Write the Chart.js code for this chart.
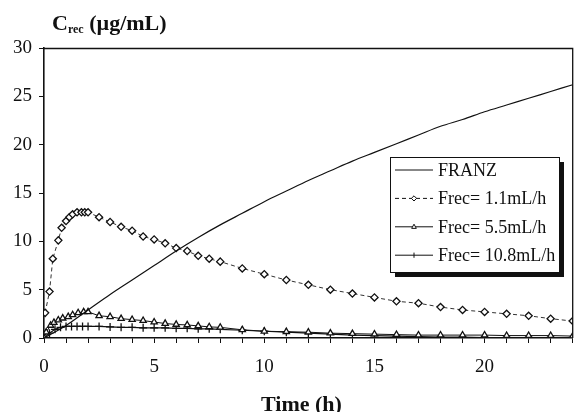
<!DOCTYPE html>
<html>
<head>
<meta charset="utf-8">
<title>Crec vs time</title>
<script src="https://cdn.jsdelivr.net/npm/chart.js@4.4.1/dist/chart.umd.min.js"></script>
<style>
  html, body { margin: 0; padding: 0; background: #fff; overflow: hidden; }
  /* the layout keeps a few px spare on the right; the wrapper is widened so the plot reaches the edge */
  #wrap { position: relative; width: 578px; height: 412px; }
</style>
</head>
<body>
<div id="wrap"><canvas id="chart"></canvas></div>
<script>
'use strict';

// ── Series data (time in h, concentration in µg/mL) ──────────
const tFranz = [0, 1, 2, 3, 4, 5, 6, 7, 8, 9, 10, 11, 12, 13, 14, 15, 16, 17, 18, 19, 20, 21, 22, 23, 24];
const cFranz = [0, 1.3, 2.9, 4.5, 6.0, 7.5, 9.0, 10.4, 11.7, 12.9, 14.1, 15.2, 16.3, 17.3, 18.3, 19.2, 20.1, 21.0, 21.9, 22.6, 23.4, 24.1, 24.8, 25.5, 26.2];

const t11 = [0.05, 0.25, 0.4, 0.65, 0.8, 1.0, 1.15, 1.3, 1.5, 1.7, 1.85, 2.0, 2.5, 3, 3.5, 4, 4.5, 5, 5.5, 6, 6.5, 7, 7.5, 8,
             9, 10, 11, 12, 13, 14, 15, 16, 17, 18, 19, 20, 21, 22, 23, 24];
const c11 = [2.6, 4.8, 8.2, 10.1, 11.4, 12.1, 12.5, 12.8, 13.0, 13.0, 13.0, 13.0, 12.5, 12.0, 11.5, 11.1, 10.5, 10.2, 9.8, 9.3, 9.0, 8.5, 8.2, 7.9,
             7.2, 6.6, 6.0, 5.5, 5.0, 4.6, 4.2, 3.8, 3.6, 3.2, 2.9, 2.7, 2.5, 2.3, 2.0, 1.75];

const t55 = [0, 0.1, 0.3, 0.45, 0.65, 0.85, 1.1, 1.3, 1.55, 1.8, 2, 2.5, 3, 3.5, 4, 4.5, 5, 5.5, 6, 6.5, 7, 7.5, 8,
             9, 10, 11, 12, 13, 14, 15, 16, 17, 18, 19, 20, 21, 22, 23, 24];
const c55 = [0, 0.6, 1.3, 1.6, 1.85, 2.05, 2.2, 2.4, 2.6, 2.7, 2.7, 2.3, 2.2, 2.0, 1.9, 1.8, 1.65, 1.5, 1.4, 1.35, 1.25, 1.15, 1.1,
             0.85, 0.7, 0.65, 0.6, 0.5, 0.45, 0.4, 0.35, 0.3, 0.3, 0.3, 0.3, 0.25, 0.25, 0.25, 0.2];

const t108 = [0, 0.25, 0.5, 0.75, 1, 1.25, 1.5, 1.75, 2, 2.5, 3, 3.5, 4, 4.5, 5, 5.5, 6, 6.5, 7, 7.5, 8,
              9, 10, 11, 12, 13, 14, 15, 16, 17, 18, 19, 20, 21, 22, 23, 24];
const c108 = [0, 0.5, 0.9, 1.1, 1.2, 1.2, 1.2, 1.2, 1.2, 1.2, 1.15, 1.1, 1.1, 1.05, 1.05, 1.05, 1.0, 1.0, 0.95, 0.95, 0.9,
              0.8, 0.7, 0.6, 0.5, 0.4, 0.3, 0.25, 0.2, 0.15, 0.1, 0.1, 0.05, 0.05, 0.05, 0.05, 0.05];

const seriesLabels = ['FRANZ', 'Frec= 1.1mL/h', 'Frec= 5.5mL/h', 'Frec= 10.8mL/h'];

// axis ranges
const xMin = 0, xMax = 24, xStep = 1, xLabelEvery = 5;
const yMin = 0, yMax = 30, yStep = 5;

const SERIF = '"Liberation Serif", "DejaVu Serif", serif';
const INK = '#111';

const pts = (xs, ys) => xs.map((x, i) => ({ x, y: ys[i] }));

// ── Plugins: frame, titles, legend box ───────────────────────
const framePlugin = {
    id: 'frame',
    afterDatasetsDraw(chart) {
        const { ctx, chartArea: a } = chart;
        ctx.save();
        ctx.strokeStyle = INK;
        ctx.lineWidth = 1.3;
        ctx.beginPath();
        ctx.moveTo(a.left, a.top + 0.5);
        ctx.lineTo(a.right, a.top + 0.5);
        ctx.lineTo(a.right, a.bottom);
        ctx.stroke();
        ctx.restore();
    }
};

const titlePlugin = {
    id: 'titles',
    afterDraw(chart) {
        const { ctx, chartArea: a } = chart;
        ctx.save();
        ctx.fillStyle = INK;
        ctx.textBaseline = 'alphabetic';
        // y title: C with "rec" subscript
        let x = 52;
        const base = 30;
        ctx.font = 'bold 22px ' + SERIF;
        ctx.fillText('C', x, base);
        x += ctx.measureText('C').width;
        ctx.font = 'bold 12px ' + SERIF;
        ctx.fillText('rec', x, base + 3);
        x += ctx.measureText('rec').width;
        ctx.font = 'bold 22px ' + SERIF;
        ctx.fillText(' (µg/mL)', x, base);
        // x title
        ctx.textAlign = 'center';
        ctx.fillText('Time (h)', a.left + (a.right - a.left) * 0.487, 411);
        ctx.restore();
    }
};

function drawMarker(ctx, style, x, y, r) {
    ctx.beginPath();
    if (style === 'rectRot') {
        ctx.moveTo(x, y - r); ctx.lineTo(x + r, y); ctx.lineTo(x, y + r); ctx.lineTo(x - r, y); ctx.closePath();
        ctx.fill(); ctx.stroke();
    } else if (style === 'triangle') {
        ctx.moveTo(x, y - r); ctx.lineTo(x + r * 0.9, y + r * 0.6); ctx.lineTo(x - r * 0.9, y + r * 0.6); ctx.closePath();
        ctx.fill(); ctx.stroke();
    } else if (style === 'cross') {
        ctx.moveTo(x, y - r); ctx.lineTo(x, y + r);
        ctx.stroke();
    }
}

const legendPlugin = {
    id: 'boxLegend',
    afterDraw(chart) {
        const { ctx } = chart;
        const box = { left: 390, top: 157, right: 559, bottom: 272, shadow: 5 };
        ctx.save();
        // drop shadow
        ctx.fillStyle = '#111';
        ctx.fillRect(box.left + box.shadow, box.top + box.shadow, box.right - box.left, box.bottom - box.top);
        ctx.fillStyle = '#fff';
        ctx.fillRect(box.left, box.top, box.right - box.left, box.bottom - box.top);
        ctx.strokeStyle = INK;
        ctx.lineWidth = 1;
        ctx.strokeRect(box.left + 0.5, box.top + 0.5, box.right - box.left, box.bottom - box.top);

        chart.data.datasets.forEach((ds, i) => {
            const y = 170 + i * 28.4;
            ctx.strokeStyle = INK;
            ctx.lineWidth = 1;
            ctx.setLineDash(ds.borderDash || []);
            ctx.beginPath();
            ctx.moveTo(395, y);
            ctx.lineTo(433, y);
            ctx.stroke();
            ctx.setLineDash([]);
            if (ds.pointStyle && ds.pointRadius > 0) {
                ctx.fillStyle = '#fff';
                ctx.lineWidth = 1;
                drawMarker(ctx, ds.pointStyle, 414, y, 2.6);
            }
            ctx.fillStyle = INK;
            ctx.font = '18px ' + SERIF;
            ctx.textBaseline = 'middle';
            ctx.fillText(ds.label, 438, y + 1);
        });
        ctx.restore();
    }
};

// ── Chart ────────────────────────────────────────────────────
const ctx = document.getElementById('chart').getContext('2d');
new Chart(ctx, {
    type: 'line',
    data: {
        datasets: [
            {
                label: seriesLabels[0], data: pts(tFranz, cFranz),
                borderColor: INK, borderWidth: 1.2, pointRadius: 0, tension: 0.4, cubicInterpolationMode: 'monotone'
            },
            {
                label: seriesLabels[1], data: pts(t11, c11),
                borderColor: '#333', borderWidth: 1, borderDash: [4, 3],
                pointStyle: 'rectRot', pointRadius: 3.6, pointBackgroundColor: '#fff',
                pointBorderColor: INK, pointBorderWidth: 1.3, tension: 0
            },
            {
                label: seriesLabels[2], data: pts(t55, c55),
                borderColor: INK, borderWidth: 1,
                pointStyle: 'triangle', pointRadius: 3.6, pointBackgroundColor: '#fff',
                pointBorderColor: INK, pointBorderWidth: 1.3, tension: 0
            },
            {
                label: seriesLabels[3], data: pts(t108, c108),
                borderColor: INK, borderWidth: 1.2,
                pointStyle: 'cross', pointRadius: 4, pointBorderColor: INK, pointBorderWidth: 1.3, tension: 0
            }
        ]
    },
    options: {
        responsive: true,
        maintainAspectRatio: false,
        animation: false,
        layout: { padding: { top: 48, right: 1, left: 0, bottom: 0 } },
        plugins: {
            legend: { display: false },
            title: { display: false },
            tooltip: { enabled: false }
        },
        elements: { point: { hoverRadius: 0 } },
        scales: {
            x: {
                type: 'linear', min: xMin, max: xMax,
                afterFit: s => { s.height = 74; s.paddingLeft = 0; s.paddingRight = 0; },
                grid: { drawOnChartArea: false, drawTicks: true, tickLength: 5, color: INK, tickWidth: 1 },
                border: { display: true, color: INK, width: 1.4 },
                ticks: {
                    stepSize: xStep, autoSkip: false, maxRotation: 0, padding: 13,
                    color: INK, font: { family: SERIF, size: 19 },
                    callback: v => (v % xLabelEvery === 0 && v < xMax ? v : '')
                }
            },
            y: {
                type: 'linear', min: yMin, max: yMax,
                afterFit: s => { s.width = 44; s.paddingTop = 0; s.paddingBottom = 0; },
                grid: { drawOnChartArea: false, drawTicks: true, tickLength: 5, color: INK, tickWidth: 1 },
                border: { display: true, color: INK, width: 1.6 },
                ticks: {
                    stepSize: yStep, padding: 7,
                    color: INK, font: { family: SERIF, size: 19 }
                }
            }
        }
    },
    plugins: [framePlugin, titlePlugin, legendPlugin]
});
</script>
</body>
</html>
